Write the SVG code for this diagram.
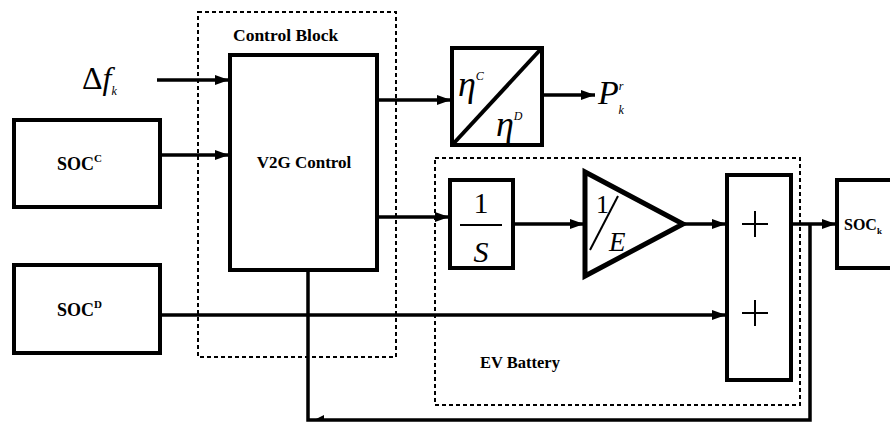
<svg xmlns="http://www.w3.org/2000/svg" width="890" height="423" viewBox="0 0 890 423">
<defs>
<style>
.box{fill:#fff;stroke:#000;stroke-width:4}
.dash{fill:none;stroke:#000;stroke-width:2;stroke-dasharray:4,3}
.wire{fill:none;stroke:#000;stroke-width:3.5}
.lbl{font-family:"Liberation Serif","Times New Roman","DejaVu Serif",serif;font-weight:bold;fill:#000}
.it{font-family:"Liberation Serif","Times New Roman","DejaVu Serif",serif;font-style:italic;fill:#000}
.rm{font-family:"Liberation Serif","Times New Roman","DejaVu Serif",serif;font-style:normal;fill:#000}
</style>
<marker id="ah" markerUnits="userSpaceOnUse" markerWidth="14" markerHeight="10" refX="14" refY="5" orient="auto">
<path d="M0,0 L14,5 L0,10 Z" fill="#000"/>
</marker>
</defs>
<rect width="890" height="423" fill="#fff"/>

<g id="control-block">
<rect class="dash" x="198" y="12" width="198" height="345"/>
<text class="lbl" x="233" y="41" font-size="17.5">Control Block</text>
</g>

<g id="ev-battery">
<rect class="dash" x="435" y="158" width="365" height="247"/>
<text class="lbl" x="480" y="368" font-size="16.5">EV Battery</text>
</g>

<g id="connectors">
<line class="wire" x1="157" y1="80" x2="229" y2="80" marker-end="url(#ah)"/>
<line class="wire" x1="160" y1="155" x2="229" y2="155" stroke-width="5" marker-end="url(#ah)"/>
<line class="wire" x1="377" y1="100" x2="451" y2="100" marker-end="url(#ah)"/>
<line class="wire" x1="542" y1="95" x2="595" y2="95" stroke-width="5" marker-end="url(#ah)"/>
<line class="wire" x1="377" y1="217" x2="449" y2="217" marker-end="url(#ah)"/>
<line class="wire" x1="513" y1="224" x2="584" y2="224" marker-end="url(#ah)"/>
<line class="wire" x1="683" y1="224" x2="726" y2="224" marker-end="url(#ah)"/>
<line class="wire" x1="791" y1="224" x2="836" y2="224" marker-end="url(#ah)"/>
<line class="wire" x1="160" y1="315" x2="726" y2="315" marker-end="url(#ah)"/>
<polyline class="wire" points="810,224 810,420 308,420 308,270"/>
<path d="M314,420 L324,415 L324,420 Z" fill="#000"/>
</g>

<g id="delta-f">
<text class="rm" x="82" y="89" font-size="32">Δ<tspan class="it">f</tspan><tspan class="it" font-size="12" dy="6">k</tspan></text>
</g>

<g id="soc-c">
<rect class="box" x="14" y="120" width="146" height="87"/>
<text class="lbl" x="57" y="170" font-size="18">SOC<tspan font-size="11" dy="-8">C</tspan></text>
</g>

<g id="soc-d">
<rect class="box" x="14" y="265" width="146" height="88"/>
<text class="lbl" x="57" y="316" font-size="18">SOC<tspan font-size="11" dy="-8">D</tspan></text>
</g>

<g id="v2g-control">
<rect class="box" x="230" y="55" width="147" height="215"/>
<text class="lbl" x="304" y="168" font-size="17" text-anchor="middle">V2G Control</text>
</g>

<g id="efficiency">
<rect class="box" x="452" y="48" width="90" height="97"/>
<line x1="454" y1="143" x2="540" y2="50" stroke="#000" stroke-width="4"/>
<text class="it" x="458" y="96" font-size="36">η<tspan font-size="12" dy="-16">C</tspan></text>
<text class="it" x="496" y="136" font-size="36">η<tspan font-size="12" dy="-16">D</tspan></text>
</g>

<g id="p-out">
<text class="it" x="598" y="104" font-size="34">P<tspan font-size="12" dy="-14">r</tspan><tspan font-size="12" dx="-5" dy="24">k</tspan></text>
</g>

<g id="integrator">
<rect class="box" x="450" y="180" width="63" height="88"/>
<text class="rm" x="481" y="213" font-size="30" text-anchor="middle">1</text>
<line x1="460" y1="225" x2="502" y2="225" stroke="#000" stroke-width="2"/>
<text class="it" x="481" y="262" font-size="30" text-anchor="middle">S</text>
</g>

<g id="gain">
<polygon points="585,172 585,276 683,224" fill="#fff" stroke="#000" stroke-width="5" stroke-linejoin="miter"/>
<text class="rm" x="596" y="213" font-size="26">1</text>
<line x1="590" y1="250" x2="618" y2="196" stroke="#000" stroke-width="2"/>
<text class="it" x="609" y="251" font-size="27">E</text>
</g>

<g id="sum">
<rect class="box" x="727" y="175" width="64" height="205"/>
<path d="M742,224 H768 M755,211 V237" stroke="#000" stroke-width="2" fill="none"/>
<path d="M742,313 H768 M755,300 V326" stroke="#000" stroke-width="2" fill="none"/>
</g>

<g id="soc-k">
<rect class="box" x="837" y="180" width="60" height="88"/>
<text class="lbl" x="844" y="230" font-size="16">SOC<tspan font-size="9" dy="4">k</tspan></text>
</g>
</svg>
